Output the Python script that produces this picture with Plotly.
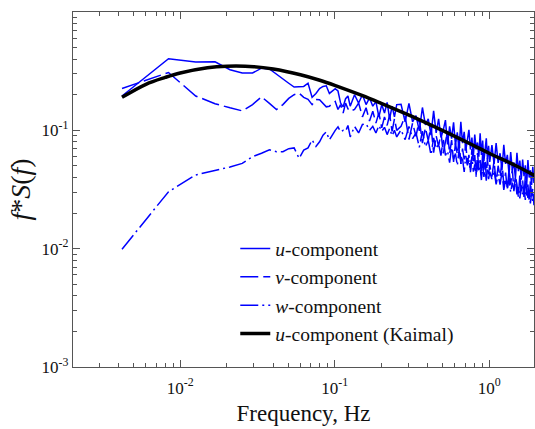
import plotly.graph_objects as go

# ---------------- data ----------------
freq = [
    # k = 1..30
    0.0042, 0.0084, 0.0126, 0.0168, 0.021, 0.0252, 0.0294, 0.0336, 0.0378, 0.042,
    0.0462, 0.0504, 0.0546, 0.0588, 0.063, 0.0672, 0.0714, 0.0756, 0.0798, 0.084,
    0.0882, 0.0924, 0.0966, 0.1008, 0.105, 0.1092, 0.1134, 0.1176, 0.1218, 0.126,
    # 0.13 - 0.25 Hz
    0.1344, 0.1428, 0.1512, 0.1596, 0.168, 0.1764, 0.1848, 0.1932, 0.2016, 0.21,
    0.2184, 0.2268, 0.2352, 0.2436, 0.252,
    # 0.27 - 1.0 Hz
    0.2688, 0.2856, 0.3024, 0.3192, 0.336, 0.3528, 0.3696, 0.3864, 0.4032, 0.42,
    0.4368, 0.4536, 0.4704, 0.4872, 0.504, 0.5208, 0.5376, 0.5544, 0.5712, 0.588,
    0.6048, 0.6216, 0.6384, 0.6552, 0.672, 0.6888, 0.7056, 0.7224, 0.7392, 0.756,
    0.7728, 0.7896, 0.8064, 0.8232, 0.84, 0.8568, 0.8736, 0.8904, 0.9072, 0.924,
    0.9408, 0.9576, 0.9744, 0.9912, 1.008,
    # 1.0 - 2.0 Hz
    1.0416, 1.0752, 1.1088, 1.1424, 1.176, 1.2096, 1.2432, 1.2768, 1.3104, 1.344,
    1.3776, 1.4112, 1.4448, 1.4784, 1.512, 1.5456, 1.5792, 1.6128, 1.6464, 1.68,
    1.7136, 1.7472, 1.7808, 1.8144, 1.848, 1.8816, 1.9152, 1.9488, 1.9824, 2.016,
]

u_comp = [
    0.195, 0.403, 0.378, 0.380, 0.325, 0.305, 0.305, 0.335, 0.330, 0.300,
    0.275, 0.250, 0.232, 0.232, 0.235, 0.250, 0.190, 0.205, 0.225, 0.235,
    0.238, 0.205, 0.215, 0.225, 0.215, 0.170, 0.158, 0.185, 0.195, 0.160,
    0.200, 0.170, 0.200, 0.165, 0.188, 0.160, 0.175, 0.130, 0.165, 0.140,
    0.172, 0.125, 0.160, 0.130, 0.165,
    0.166, 0.118, 0.169, 0.118, 0.133, 0.099, 0.156, 0.111, 0.125, 0.091,
    0.146, 0.095, 0.125, 0.087, 0.100, 0.122, 0.076, 0.108, 0.085, 0.117,
    0.075, 0.096, 0.068, 0.118, 0.078, 0.097, 0.068, 0.083, 0.101, 0.069,
    0.087, 0.060, 0.092, 0.069, 0.079, 0.060, 0.0945, 0.062, 0.082, 0.055,
    0.070, 0.0855, 0.057, 0.074, 0.054,
    0.075, 0.052, 0.078, 0.053, 0.064, 0.046, 0.0756, 0.052, 0.062, 0.0426,
    0.0656, 0.0465, 0.0536, 0.0392, 0.0646, 0.0451, 0.0555, 0.0382, 0.0565, 0.0409,
    0.0506, 0.034, 0.056, 0.0399, 0.046, 0.0346, 0.0492, 0.036, 0.0418, 0.0323,
]

v_comp = [
    0.226, 0.308, 0.195, 0.168, 0.155, 0.146, 0.165, 0.192, 0.169, 0.150,
    0.165, 0.186, 0.200, 0.206, 0.190, 0.183, 0.165, 0.182, 0.181, 0.170,
    0.158, 0.160, 0.168, 0.175, 0.150, 0.165, 0.140, 0.170, 0.152, 0.145,
    0.150, 0.170, 0.130, 0.155, 0.120, 0.145, 0.115, 0.140, 0.105, 0.130,
    0.110, 0.135, 0.098, 0.125, 0.100,
    0.108, 0.132, 0.0837, 0.115, 0.0889, 0.124, 0.078, 0.105, 0.082, 0.109,
    0.0648, 0.090, 0.0728, 0.097, 0.064, 0.080, 0.0974, 0.0636, 0.0828, 0.054,
    0.0779, 0.0626, 0.0821, 0.0521, 0.0701, 0.0567, 0.0784, 0.0521, 0.062, 0.0459,
    0.0695, 0.0522, 0.0617, 0.042, 0.0644, 0.0479, 0.056, 0.0414, 0.0646, 0.0471,
    0.0565, 0.0408, 0.0585, 0.0424, 0.051,
    0.0406, 0.0552, 0.0361, 0.0502, 0.0406, 0.0542, 0.0347, 0.044, 0.0313, 0.0469,
    0.0347, 0.0476, 0.0306, 0.0412, 0.0348, 0.027, 0.0425, 0.0305, 0.0377, 0.027,
    0.0414, 0.0281, 0.0349, 0.0248, 0.0372, 0.0277, 0.0321, 0.0233, 0.0334, 0.0248,
]

w_comp = [
    0.0099, 0.0303, 0.042, 0.0456, 0.049, 0.0526, 0.060, 0.064, 0.0685, 0.066,
    0.066, 0.070, 0.071, 0.058, 0.068, 0.071, 0.083, 0.073, 0.080, 0.091,
    0.097, 0.083, 0.092, 0.100, 0.107, 0.097, 0.100, 0.098, 0.110, 0.088,
    0.108, 0.095, 0.112, 0.114, 0.100, 0.108, 0.095, 0.110, 0.098, 0.106,
    0.092, 0.104, 0.090, 0.100, 0.088,
    0.101, 0.0834, 0.108, 0.0852, 0.0953, 0.0719, 0.0984, 0.0725, 0.0821, 0.0622,
    0.0864, 0.070, 0.077, 0.0612, 0.085, 0.0614, 0.0669, 0.0533, 0.0718, 0.0576,
    0.0637, 0.0505, 0.0684, 0.0521, 0.0578, 0.0446, 0.0608, 0.0506, 0.0558, 0.0444,
    0.0604, 0.0447, 0.0515, 0.0406, 0.0536, 0.0444, 0.049, 0.038, 0.053, 0.0404,
    0.0479, 0.0375, 0.0481, 0.0386, 0.0446,
    0.0388, 0.046, 0.0349, 0.0425, 0.0348, 0.0445, 0.0314, 0.0385, 0.0324, 0.0394,
    0.0299, 0.0362, 0.0316, 0.0382, 0.0288, 0.0333, 0.0266, 0.0343, 0.0283, 0.0326,
    0.0258, 0.0336, 0.0269, 0.0301, 0.0241, 0.0303, 0.0248, 0.0279, 0.023, 0.0282,
]

kaimal_freq = [0.0042, 0.006, 0.008, 0.01, 0.015, 0.02, 0.03, 0.04, 0.06, 0.08,
               0.1, 0.15, 0.2, 0.3, 0.4, 0.6, 0.8, 1.0, 1.5, 2.0]
kaimal_u = [0.190, 0.245, 0.280, 0.305, 0.338, 0.348, 0.345, 0.330, 0.295, 0.265,
            0.240, 0.197, 0.169, 0.135, 0.114, 0.089, 0.074, 0.064, 0.050, 0.041]

series_names = ["<i>u</i>-component", "<i>v</i>-component",
                "<i>w</i>-component", "<i>u</i>-component (Kaimal)"]

x_tickvals = [0.01, 0.1, 1]
x_ticktext = ["10<sup>-2</sup>", "10<sup>-1</sup>", "10<sup>0</sup>"]
y_tickvals = [0.001, 0.01, 0.1, 1]
y_ticktext = ["10<sup>-3</sup>", "10<sup>-2</sup>", "10<sup>-1</sup>", "10<sup>0</sup>"]
minor_mult = [2, 3, 4, 5, 6, 7, 8, 9]

# ---------------- figure ----------------
FONT = "Liberation Serif"
BLUE = "#0000ff"
AX = "#555555"
TXT = "#111111"

fig = go.Figure()
fig.add_trace(go.Scatter(x=freq, y=u_comp, mode="lines", name=series_names[0],
                         line=dict(color=BLUE, width=1.5)))
fig.add_trace(go.Scatter(x=freq, y=v_comp, mode="lines", name=series_names[1],
                         line=dict(color=BLUE, width=1.5, dash="18px,5px")))
fig.add_trace(go.Scatter(x=freq, y=w_comp, mode="lines", name=series_names[2],
                         line=dict(color=BLUE, width=1.5, dash="18px,4px,2px,4px")))
fig.add_trace(go.Scatter(x=kaimal_freq, y=kaimal_u, mode="lines", name=series_names[3],
                         line=dict(color="black", width=3.5, shape="spline")))

x_minor = [m * 10.0 ** e for e in (-3, -2, -1, 0) for m in minor_mult]
y_minor = [m * 10.0 ** e for e in (-3, -2, -1) for m in minor_mult]

axis_common = dict(
    type="log", showgrid=False, zeroline=False,
    showline=True, linecolor=AX, linewidth=1.3, mirror="ticks",
    ticks="inside", ticklen=7, tickwidth=1.2, tickcolor=AX,
    tickmode="array",
    tickfont=dict(family=FONT, size=17, color=TXT),
)

fig.update_layout(
    width=535, height=429,
    margin=dict(l=73, r=1, t=12, b=62),
    paper_bgcolor="white", plot_bgcolor="white",
    font=dict(family=FONT, color=TXT),
    xaxis=dict(axis_common, range=[-2.694, 0.290],
               tickvals=x_tickvals, ticktext=x_ticktext,
               ticklabelstandoff=5,
               minor=dict(tickmode="array", tickvals=x_minor, ticks="inside",
                          ticklen=4, tickwidth=1, tickcolor=AX),
               title=dict(text="Frequency, Hz", font=dict(family=FONT, size=23, color=TXT),
                          standoff=8)),
    yaxis=dict(axis_common, range=[-3, 0],
               tickvals=y_tickvals, ticktext=y_ticktext,
               minor=dict(tickmode="array", tickvals=y_minor, ticks="inside",
                          ticklen=4, tickwidth=1, tickcolor=AX),
               title=dict(text="<i>f</i>*<i>S</i>(<i>f</i>)",
                          font=dict(family=FONT, size=28, color=TXT), standoff=2)),
    legend=dict(x=0.352, y=0.388, xanchor="left", yanchor="top",
                bgcolor="rgba(0,0,0,0)", borderwidth=0,
                font=dict(family=FONT, size=19.5, color=TXT),
                traceorder="normal"),
    showlegend=True,
)

fig.write_html("out.html")
